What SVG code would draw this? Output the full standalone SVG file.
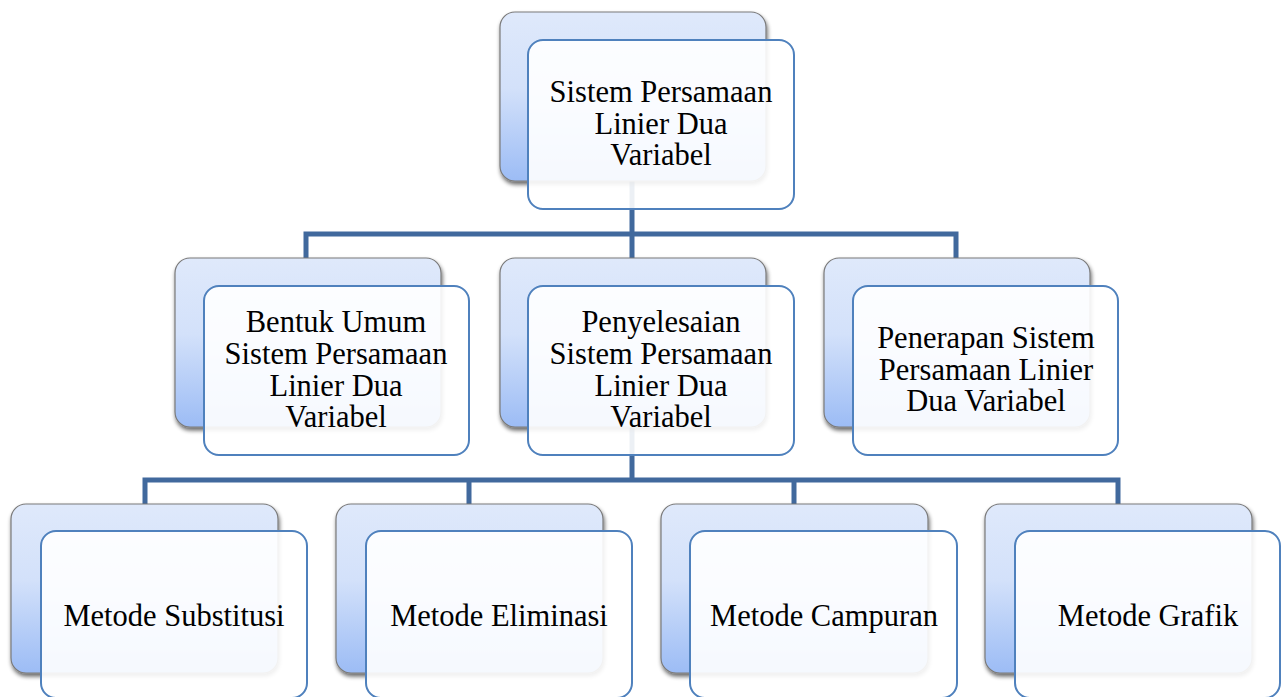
<svg xmlns="http://www.w3.org/2000/svg" width="1288" height="697" viewBox="0 0 1288 697">
<defs>
<linearGradient id="bg" x1="0" y1="0" x2="0" y2="1">
<stop offset="0" stop-color="#dfe9fb"/>
<stop offset="0.45" stop-color="#d3e1fa"/>
<stop offset="1" stop-color="#9cbcf5"/>
</linearGradient>
<filter id="sh" x="-10%" y="-10%" width="125%" height="130%">
<feGaussianBlur in="SourceAlpha" stdDeviation="2"/>
<feOffset dx="1" dy="3" result="b"/>
<feComponentTransfer><feFuncA type="linear" slope="0.6"/></feComponentTransfer>
<feMerge><feMergeNode/><feMergeNode in="SourceGraphic"/></feMerge>
</filter>
</defs>
<style>
.back{fill:url(#bg);stroke:#7a7a7a;stroke-width:1.2;filter:url(#sh)}
.front{fill:#ffffff;fill-opacity:0.9;stroke:#4f81bd;stroke-width:2}
.conn{fill:none;stroke:#41699d;stroke-width:5;stroke-linejoin:miter}
text{font-family:"Liberation Serif","Times New Roman",serif;font-size:30.5px;fill:#000;text-anchor:middle}
</style>
<rect width="1288" height="697" fill="#ffffff"/>
<g id="connectors">
<path class="conn" d="M632 181 V234 M306 258 V234 H956 V258 M632 234 V258"/>
<path class="conn" d="M632 427 V480 M145 504 V480 H1118 V504 M469 480 V504 M794 480 V504"/>
</g>
<g id="n-root">
<rect class="back" x="500" y="12" width="266" height="169" rx="15"/>
<rect class="front" x="528" y="40" width="266" height="169" rx="15"/>
<text x="661" y="102">Sistem Persamaan</text>
<text x="661" y="133.5">Linier Dua</text>
<text x="661" y="165">Variabel</text>
</g>
<g id="n-bentuk">
<rect class="back" x="175" y="258" width="266" height="169" rx="15"/>
<rect class="front" x="204" y="286" width="265" height="169" rx="15"/>
<text x="336" y="332">Bentuk Umum</text>
<text x="336" y="363.5">Sistem Persamaan</text>
<text x="336" y="395.5">Linier Dua</text>
<text x="336" y="427">Variabel</text>
</g>
<g id="n-penyelesaian">
<rect class="back" x="500" y="258" width="266" height="169" rx="15"/>
<rect class="front" x="528" y="286" width="266" height="169" rx="15"/>
<text x="661" y="332">Penyelesaian</text>
<text x="661" y="363.5">Sistem Persamaan</text>
<text x="661" y="395.5">Linier Dua</text>
<text x="661" y="427">Variabel</text>
</g>
<g id="n-penerapan">
<rect class="back" x="824" y="258" width="266" height="169" rx="15"/>
<rect class="front" x="853" y="286" width="265" height="169" rx="15"/>
<text x="986" y="348">Penerapan Sistem</text>
<text x="986" y="379.5">Persamaan Linier</text>
<text x="986" y="411">Dua Variabel</text>
</g>
<g id="n-substitusi">
<rect class="back" x="11" y="504" width="267" height="169" rx="15"/>
<rect class="front" x="41" y="531" width="266" height="167" rx="15"/>
<text x="174" y="626">Metode Substitusi</text>
</g>
<g id="n-eliminasi">
<rect class="back" x="336" y="504" width="267" height="169" rx="15"/>
<rect class="front" x="366" y="531" width="266" height="167" rx="15"/>
<text x="499" y="626">Metode Eliminasi</text>
</g>
<g id="n-campuran">
<rect class="back" x="661" y="504" width="267" height="169" rx="15"/>
<rect class="front" x="690" y="531" width="267" height="167" rx="15"/>
<text x="824" y="626">Metode Campuran</text>
</g>
<g id="n-grafik">
<rect class="back" x="985" y="504" width="267" height="169" rx="15"/>
<rect class="front" x="1015" y="531" width="265" height="167" rx="15"/>
<text x="1148" y="626">Metode Grafik</text>
</g>
</svg>
